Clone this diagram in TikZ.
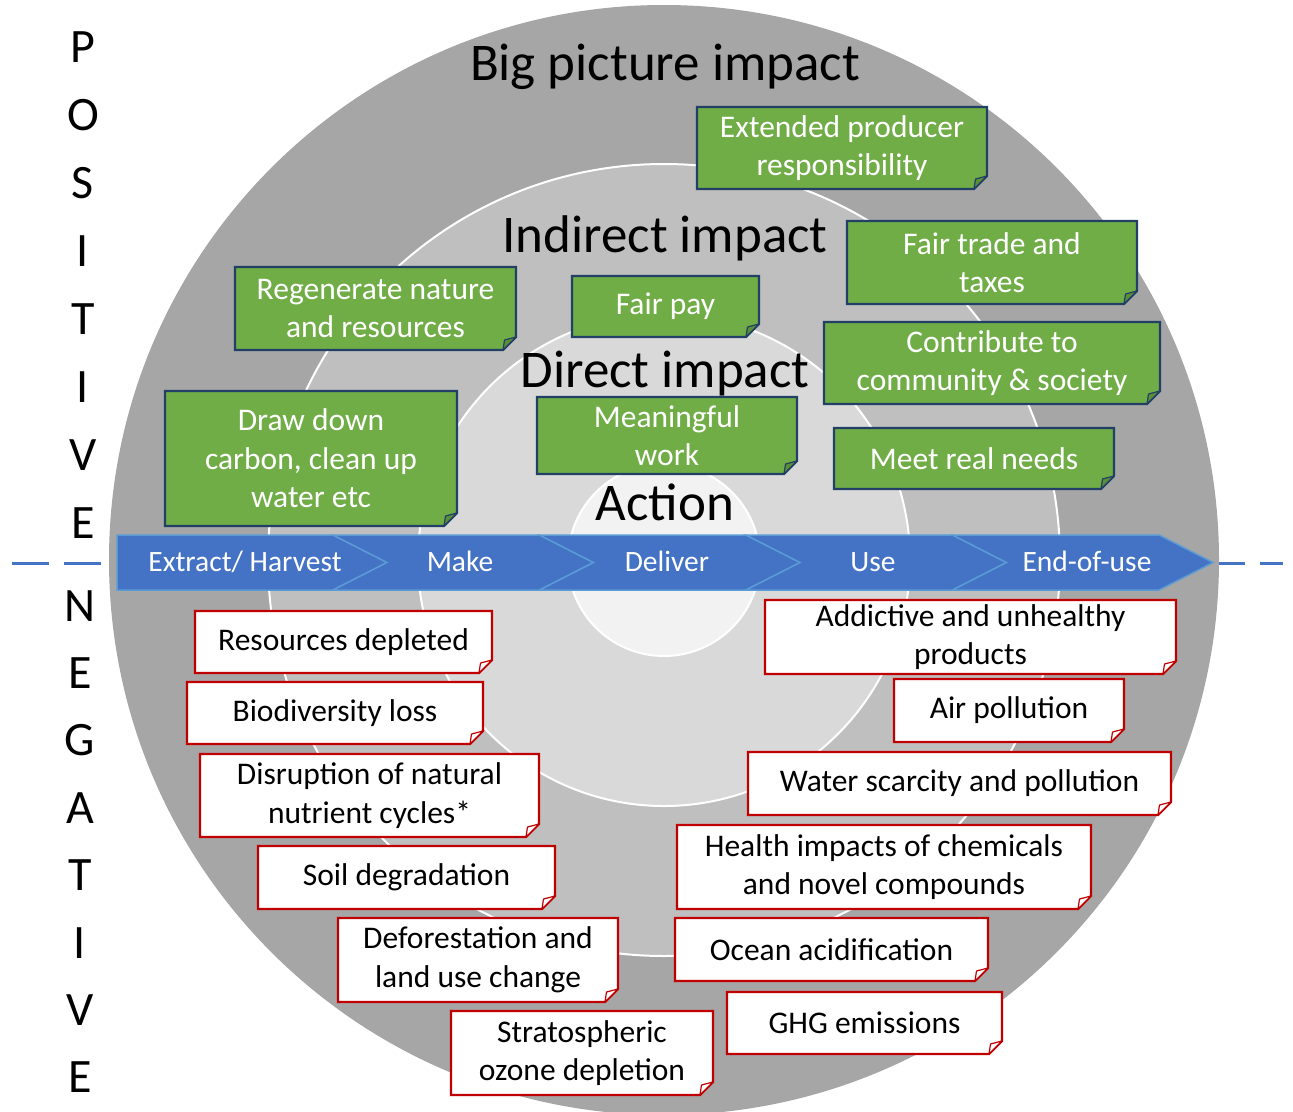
\documentclass[tikz,border=0pt]{standalone}
\usepackage{fontspec}
\setmainfont{Carlito}
\usepackage{xcolor}
\usepackage{tikz}

\definecolor{ringbig}{HTML}{A6A6A6}
\definecolor{ringind}{HTML}{BFBFBF}
\definecolor{ringdir}{HTML}{D9D9D9}
\definecolor{ringact}{HTML}{F2F2F2}
\definecolor{leaf}{HTML}{70AD47}
\definecolor{leafdark}{HTML}{5A8F38}
\definecolor{navy}{HTML}{223F66}
\definecolor{alarm}{HTML}{C00000}
\definecolor{flow}{HTML}{4472C4}
\definecolor{flowline}{HTML}{5B9BD5}

% box with folded corner: name, kind, x1, y1, x2, y2, text
\newcommand{\notebox}[7]{%
  \filldraw[#2 box] (#3,#4) -- (#5,#4) -- (#5,#6-13) -- (#5-13,#6) -- (#3,#6) -- cycle;
  \filldraw[#2 fold] (#5,#6-13) -- (#5-13,#6) -- (#5-11.5,#6-10) -- cycle;
  \node[#2 text] (#1) at ({(#3+#5)/2},{(#4+#6)/2}) {#7};
}

\begin{document}
\begin{tikzpicture}[x=1pt,y=-1pt,
    good box/.style={fill=leaf,draw=navy,line width=2.3pt},
    good fold/.style={fill=leafdark,draw=navy,line width=1.2pt,line join=round},
    good text/.style={text=white,font=\fontsize{31.5}{38.5}\selectfont,align=center},
    bad box/.style={fill=white,draw=alarm,line width=2.3pt},
    bad fold/.style={fill=white,draw=alarm,line width=1.2pt,line join=round},
    bad text/.style={text=black,font=\fontsize{31.5}{38.5}\selectfont,align=center},
    ring/.style={draw=white,line width=2pt},
    title/.style={font=\fontsize{53}{64}\selectfont,anchor=base},
    stage/.style={fill=flow,draw=flowline,line width=1.5pt},
    stage text/.style={text=white,font=\fontsize{29.5}{35}\selectfont,anchor=base},
    side/.style={font=\fontsize{48}{56}\selectfont,anchor=base}]
  \useasboundingbox (0,0) rectangle (1293,1111);

  \draw[flow,line width=3pt,dash pattern=on 37pt off 15pt] (12,563) -- (1283,563);

  % the impact rings
  \fill[ringbig] (664,560) circle (555pt);
  \filldraw[ring,fill=ringind] (664,560) circle (396pt);
  \filldraw[ring,fill=ringdir] (664,560) circle (246pt);
  \filldraw[ring,fill=ringact] (664,560) circle (96pt);

  \node[title] (big) at (665,80) {Big picture impact};
  \node[title] (indirect) at (665,252) {Indirect impact};
  \node[title] (direct) at (665,387) {Direct impact};
  \node[title] (action) at (665,520) {Action};

  % life cycle arrow
  \filldraw[stage] (117,535) -- (333,535) -- (387,562.5) -- (333,590) -- (117,590) -- cycle;
  \foreach \i in {0,...,3}
    \filldraw[stage] ({333+206.5*\i},535) -- ({539.5+206.5*\i},535) -- ({593.5+206.5*\i},562.5)
      -- ({539.5+206.5*\i},590) -- ({333+206.5*\i},590) -- ({387+206.5*\i},562.5) -- cycle;
  \node[stage text] (extract) at (245,571) {Extract/ Harvest};
  \node[stage text] (make) at (460,571) {Make};
  \node[stage text] (deliver) at (667,571) {Deliver};
  \node[stage text] (use) at (873,571) {Use};
  \node[stage text] (endofuse) at (1087,571) {End-of-use};

  % positive
  \notebox{epr}{good}{697}{107}{987}{189}{Extended producer\\responsibility}
  \notebox{trade}{good}{847}{221}{1137}{304}{Fair trade and\\taxes}
  \notebox{society}{good}{824}{322}{1160}{404}{Contribute to\\community \& society}
  \notebox{needs}{good}{834}{428}{1114}{489}{Meet real needs}
  \notebox{pay}{good}{572}{276}{759}{337}{Fair pay}
  \notebox{work}{good}{537}{397}{797}{474}{Meaningful\\work}
  \notebox{regen}{good}{235}{267}{516}{350}{Regenerate nature\\and resources}
  \notebox{carbon}{good}{165}{391}{457}{526}{Draw down\\carbon, clean up\\water etc}

  % negative
  \notebox{deplete}{bad}{195}{611}{492}{673}{Resources depleted}
  \notebox{biodiv}{bad}{187}{682}{483}{744}{Biodiversity loss}
  \notebox{nutrient}{bad}{200}{754}{539}{837}{Disruption of natural\\nutrient cycles*}
  \notebox{soil}{bad}{258}{846}{555}{909}{Soil degradation}
  \notebox{forest}{bad}{338}{918}{618}{1002}{Deforestation and\\land use change}
  \notebox{ozone}{bad}{451}{1011}{713}{1095}{Stratospheric\\ozone depletion}
  \notebox{addict}{bad}{765}{600}{1176}{674}{Addictive and unhealthy\\products}
  \notebox{air}{bad}{894}{679}{1124}{742}{Air pollution}
  \notebox{water}{bad}{748}{752}{1171}{815}{Water scarcity and pollution}
  \notebox{chem}{bad}{677}{825}{1091}{909}{Health impacts of chemicals\\and novel compounds}
  \notebox{ocean}{bad}{675}{918}{988}{981}{Ocean acidification}
  \notebox{ghg}{bad}{727}{992}{1002}{1054}{GHG emissions}

  \foreach \ch [count=\i from 0] in {P,O,S,I,T,I,V,E}
    \node[side] (pos\i) at (83,{62+68*\i}) {\ch};
  \foreach \ch [count=\i from 0] in {N,E,G,A,T,I,V,E}
    \node[side] (neg\i) at (80,{621+67.4*\i}) {\ch};
\end{tikzpicture}
\end{document}
